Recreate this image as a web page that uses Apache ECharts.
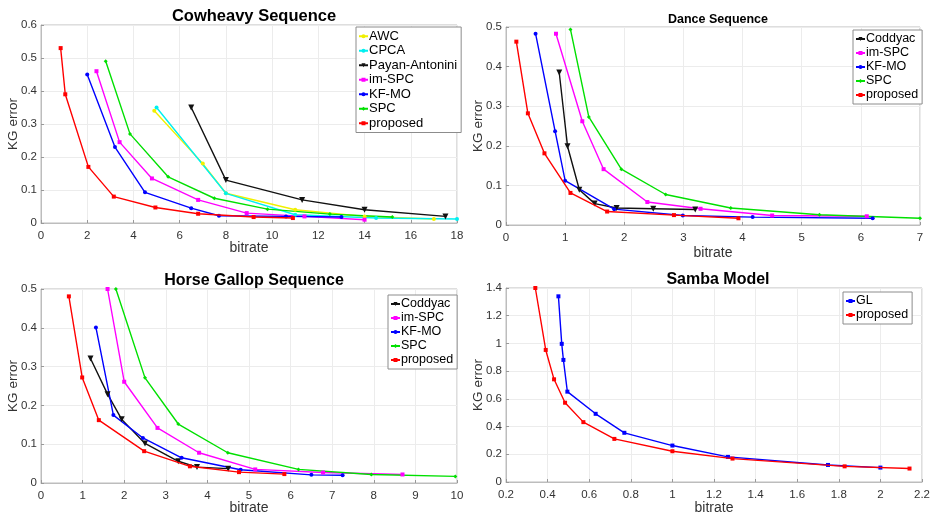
<!DOCTYPE html>
<html><head><meta charset="utf-8">
<script src="https://cdn.jsdelivr.net/npm/echarts@6/dist/echarts.min.js"></script>
<style>html,body{margin:0;padding:0;background:#fff}#c{width:937px;height:518px}</style>
</head><body><div id="c"></div>
<script>
// ---- Cowheavy Sequence ----
const cowAWC = [[4.9,0.34],[7,0.18],[8,0.09],[11,0.04],[14,0.02],[17,0.012]];
const cowCPCA = [[5,0.35],[8,0.09],[11,0.025],[14.5,0.015],[18,0.012]];
const cowPayan = [[6.5,0.35],[8,0.13],[11.3,0.07],[14,0.04],[17.5,0.02]];
const cowImSPC = [[2.4,0.46],[3.4,0.245],[4.8,0.135],[6.8,0.07],[8.9,0.03],[11.4,0.02],[14,0.01]];
const cowKFMO = [[2,0.45],[3.2,0.23],[4.5,0.093],[6.5,0.045],[7.7,0.022],[10.6,0.02],[13,0.018]];
const cowSPC = [[2.8,0.49],[3.85,0.27],[5.5,0.14],[7.5,0.075],[9.8,0.042],[12.5,0.027],[15.2,0.018]];
const cowProposed = [[0.85,0.53],[1.05,0.39],[2.05,0.17],[3.15,0.08],[4.95,0.047],[6.8,0.028],[9.2,0.018],[10.9,0.015]];
// ---- Dance Sequence ----
const danceCoddyac = [[0.9,0.385],[1.04,0.199],[1.24,0.089],[1.5,0.054],[1.87,0.043],[2.49,0.041],[3.2,0.039]];
const danceImSPC = [[0.845,0.483],[1.29,0.262],[1.65,0.141],[2.39,0.058],[3.29,0.041],[4.5,0.024],[6.1,0.022]];
const danceKFMO = [[0.5,0.483],[0.83,0.237],[1.0,0.112],[1.83,0.04],[2.99,0.024],[4.17,0.02],[6.2,0.017]];
const danceSPC = [[1.09,0.494],[1.4,0.273],[1.95,0.141],[2.7,0.077],[3.8,0.043],[5.3,0.026],[7.0,0.017]];
const danceProposed = [[0.175,0.463],[0.37,0.282],[0.65,0.181],[1.09,0.081],[1.71,0.034],[2.84,0.025],[3.93,0.017]];
// ---- Horse Gallop Sequence ----
const horseCoddyac = [[1.19,0.321],[1.6,0.229],[1.94,0.164],[2.5,0.102],[3.3,0.056],[3.75,0.041],[4.5,0.037]];
const horseImSPC = [[1.6,0.5],[2.0,0.261],[2.8,0.142],[3.8,0.078],[5.15,0.035],[6.78,0.027],[8.69,0.022]];
const horseKFMO = [[1.32,0.401],[1.74,0.175],[2.45,0.116],[3.38,0.065],[4.8,0.034],[6.5,0.021],[7.25,0.02]];
const horseSPC = [[1.8,0.5],[2.5,0.271],[3.3,0.152],[4.49,0.078],[6.19,0.035],[7.94,0.022],[9.96,0.017]];
const horseProposed = [[0.67,0.481],[0.99,0.272],[1.39,0.162],[2.48,0.082],[3.58,0.043],[4.76,0.028],[5.85,0.023]];
// ---- Samba Model ----
const sambaGL = [[0.452,1.34],[0.468,0.997],[0.476,0.881],[0.495,0.652],[0.631,0.492],[0.769,0.355],[1.0,0.263],[1.267,0.181],[1.748,0.123],[2.0,0.104]];
const sambaProposed = [[0.341,1.4],[0.391,0.953],[0.431,0.741],[0.484,0.572],[0.572,0.432],[0.721,0.311],[1.0,0.222],[1.289,0.169],[1.828,0.113],[2.14,0.097]];

const titles = ['Cowheavy Sequence','Dance Sequence','Horse Gallop Sequence','Samba Model'];
const xName = 'bitrate', yName = 'KG error';

const COL = {AWC:'#f0f000',CPCA:'#00f0f0','Payan-Antonini':'#111111',Coddyac:'#111111','im-SPC':'#ff00ff','KF-MO':'#0000ff',SPC:'#00e000',GL:'#0000ff',proposed:'#ff0000'};
const SYM = {AWC:'circle',CPCA:'circle','Payan-Antonini':'triangle',Coddyac:'triangle','im-SPC':'rect','KF-MO':'circle',SPC:'diamond',GL:'rect',proposed:'rect'};

const grids = [
  {left:41, top:25, width:416, height:198},
  {left:506, top:27, width:414, height:198},
  {left:41, top:289, width:416, height:194},
  {left:506, top:288, width:416, height:194}
];
const axesCfg = [
  {xmin:0,xmax:18,xint:2,ymin:0,ymax:0.6,yint:0.1,yGap:28,xGap:25},
  {xmin:0,xmax:7,xint:1,ymin:0,ymax:0.5,yint:0.1,yGap:28,xGap:28},
  {xmin:0,xmax:10,xint:1,ymin:0,ymax:0.5,yint:0.1,yGap:28,xGap:25},
  {xmin:0.2,xmax:2.2,xint:0.2,ymin:0,ymax:1.4,yint:0.2,yGap:28,xGap:26}
];
const plotSeries = [
  [['AWC',cowAWC],['CPCA',cowCPCA],['Payan-Antonini',cowPayan],['im-SPC',cowImSPC],['KF-MO',cowKFMO],['SPC',cowSPC],['proposed',cowProposed]],
  [['Coddyac',danceCoddyac],['im-SPC',danceImSPC],['KF-MO',danceKFMO],['SPC',danceSPC],['proposed',danceProposed]],
  [['Coddyac',horseCoddyac],['im-SPC',horseImSPC],['KF-MO',horseKFMO],['SPC',horseSPC],['proposed',horseProposed]],
  [['GL',sambaGL],['proposed',sambaProposed]]
];
const legendPos = [
  {left:356, top:27, fs:13, lh:14.5},
  {left:853, top:30, fs:12.5, lh:14},
  {left:388, top:295, fs:12.5, lh:14},
  {left:843, top:292, fs:12.5, lh:14}
];
const titlePos = [
  {x:249, y:3, fs:16.5},
  {x:713, y:8, fs:12.5},
  {x:249, y:268, fs:16},
  {x:713, y:267, fs:16}
];

const font = '"Liberation Sans", Arial, Helvetica, sans-serif';
const option = {
  backgroundColor:'#fff',
  animation:false,
  title: titles.map((t,i)=>({text:t, left:titlePos[i].x, top:titlePos[i].y, textAlign:'center',
    textStyle:{fontFamily:font, fontWeight:'bold', fontSize:titlePos[i].fs, color:'#000'}})),
  grid: grids.map(g=>Object.assign({show:true, borderColor:'#bdbdbd', borderWidth:1, backgroundColor:'#fff'}, g)),
  xAxis: axesCfg.map((a,i)=>({type:'value', gridIndex:i, min:a.xmin, max:a.xmax, interval:a.xint,
    name:xName, nameLocation:'middle', nameGap:a.xGap, nameMoveOverlap:false,
    nameTextStyle:{fontFamily:font, fontSize:14, color:'#333', verticalAlign:'middle'},
    axisLine:{show:true, onZero:false, lineStyle:{color:'#bdbdbd', width:1}},
    axisTick:{show:true, inside:true, length:3, lineStyle:{color:'#999'}},
    axisLabel:{fontFamily:font, fontSize:11.5, color:'#333', margin:7},
    splitLine:{show:true, lineStyle:{color:'#ececec', width:1}}})),
  yAxis: axesCfg.map((a,i)=>({type:'value', gridIndex:i, min:a.ymin, max:a.ymax, interval:a.yint,
    name:yName, nameLocation:'middle', nameGap:a.yGap, nameRotate:90, nameMoveOverlap:false,
    nameTextStyle:{fontFamily:font, fontSize:13.5, color:'#333', verticalAlign:'middle'},
    axisLine:{show:true, onZero:false, lineStyle:{color:'#bdbdbd', width:1}},
    axisTick:{show:true, inside:true, length:3, lineStyle:{color:'#999'}},
    axisLabel:{fontFamily:font, fontSize:11.5, color:'#333', margin:4},
    splitLine:{show:true, lineStyle:{color:'#ececec', width:1}}})),
  legend: plotSeries.map((ps,i)=>({
    orient:'vertical', left:legendPos[i].left, top:legendPos[i].top,
    data: ps.map(s=>s[0]), selectedMode:false,
    backgroundColor:'#fff', borderColor:'#8c8c8c', borderWidth:1,
    padding:[2,4,2,2], itemGap:0, itemWidth:9, itemHeight:5,
    textStyle:{fontFamily:font, fontSize:legendPos[i].fs, color:'#000', lineHeight:legendPos[i].lh, padding:[0,0,0,-4]}
  })),
  series: []
};
plotSeries.forEach((ps,i)=>{
  ps.forEach(([name,data])=>{
    option.series.push({type:'line', name, xAxisIndex:i, yAxisIndex:i, data,
      symbol:SYM[name], symbolSize: SYM[name]==='triangle'?6:4, symbolRotate: SYM[name]==='triangle'?180:0,
      showSymbol:true, lineStyle:{color:COL[name], width:1.4}, itemStyle:{color:COL[name]},
      z: name==='proposed'?3:2});
  });
});
const chart = echarts.init(document.getElementById('c'), null, {renderer:'canvas'});
chart.setOption(option);
</script></body></html>
